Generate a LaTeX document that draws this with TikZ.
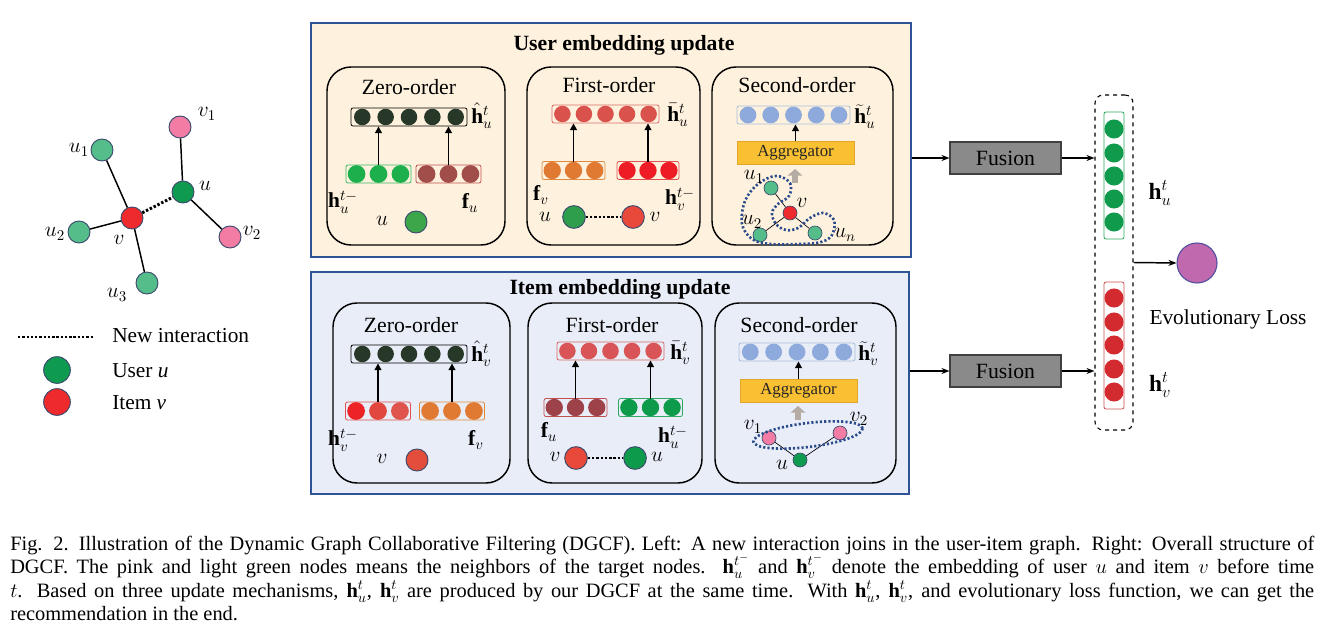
\RequirePackage{fix-cm}
\documentclass[tikz,border=0pt]{standalone}
\usepackage{fontspec}
\setmainfont{Liberation Serif}
\usetikzlibrary{arrows.meta,calc}
\definecolor{usercream}{HTML}{FEF2DE}
\definecolor{itembg}{HTML}{E9EDF7}
\definecolor{panelblue}{HTML}{2F5496}
\definecolor{darkdot}{HTML}{283828}
\definecolor{zgreen}{HTML}{1DAF4B}
\definecolor{zgreenedge}{HTML}{3DB865}
\definecolor{brownd}{HTML}{A14D4A}
\definecolor{brownedge}{HTML}{C0504D}
\definecolor{topred}{HTML}{D9534C}
\definecolor{topredge}{HTML}{D66A66}
\definecolor{orng}{HTML}{E07A33}
\definecolor{orngedge}{HTML}{E08A40}
\definecolor{bred}{HTML}{EE1D25}
\definecolor{brededge}{HTML}{E05050}
\definecolor{lblue}{HTML}{8EA9DB}
\definecolor{lbluedge}{HTML}{A8BEDD}
\definecolor{aggfill}{HTML}{F8C032}
\definecolor{aggedge}{HTML}{E3A52A}
\definecolor{grayarr}{HTML}{B3ABA4}
\definecolor{pinkn}{HTML}{F27CA3}
\definecolor{lgreen}{HTML}{54BD89}
\definecolor{dgreen}{HTML}{0E9A4F}
\definecolor{redn}{HTML}{EE2A2C}
\definecolor{nodeedge}{HTML}{3B4A6E}
\definecolor{dotblue}{HTML}{2B4C8C}
\definecolor{rgreen}{HTML}{0F9A4C}
\definecolor{rgreenedge}{HTML}{2BA860}
\definecolor{rred}{HTML}{D32A30}
\definecolor{rrededge}{HTML}{D05050}
\definecolor{fusfill}{HTML}{8A8A8A}
\definecolor{lossfill}{HTML}{C069AE}
\definecolor{lossedge}{HTML}{4F4FA0}
\definecolor{ured}{HTML}{E8493B}
\definecolor{ugreen}{HTML}{2E9D4C}
\definecolor{zcirc}{HTML}{3DA54A}
\definecolor{igreen}{HTML}{0D9A4B}
\definecolor{igreenedge}{HTML}{2EA860}
\definecolor{irA}{HTML}{EC2227}
\definecolor{irB}{HTML}{E2473F}
\definecolor{irC}{HTML}{DF544C}
\definecolor{itopred}{HTML}{D95457}
\definecolor{ibrown}{HTML}{9E424A}
\definecolor{icirc}{HTML}{E34D3C}

\tikzset{
  panelbox/.style={draw=panelblue, line width=1.3pt, rectangle, inner sep=0pt},
  subbox/.style={draw=black, line width=1.1pt, rounded corners=18pt, rectangle, inner sep=0pt},
  vbox/.style={rectangle, line width=0.6pt, rounded corners=1.5pt, inner sep=0pt, minimum height=13.5pt},
  vdot/.style={circle, inner sep=0pt},
  uparr/.style={-{Triangle[length=5pt,width=5pt]}, line width=1.3pt},
  conn/.style={-{Stealth[length=6pt,width=4.5pt]}, line width=1.1pt},
  lab/.style={inner sep=0pt, font=\fontsize{16}{19}\selectfont},
  ttl/.style={inner sep=0pt, font=\fontsize{16.3}{19}\selectfont},
  btitle/.style={inner sep=0pt, font=\fontsize{16.3}{19}\selectfont\bfseries},
  gn/.style={circle, draw=nodeedge, line width=0.7pt, inner sep=0pt, minimum size=16.5pt},
  sgn/.style={circle, draw=nodeedge, line width=0.5pt, inner sep=0pt, minimum size=10.5pt},
  edge/.style={line width=1.1pt},
  thinedge/.style={line width=0.5pt},
  nbr/.style={draw=dotblue, line width=2pt, dash pattern=on 1.6pt off 1.6pt},
  newint/.style={line width=2.2pt, dash pattern=on 1.8pt off 1.4pt},
  agg/.style={rectangle, fill=aggfill, draw=aggedge, line width=0.6pt, inner sep=0pt, minimum width=87.75pt, minimum height=17.25pt, font=\fontsize{12.6}{14}\selectfont, text=black!85},
  grayarrow/.style={draw=grayarr, line width=4pt, -{Triangle[length=5pt,width=11pt]}},
  fusion/.style={rectangle, fill=fusfill, draw=black!75, line width=0.8pt, minimum width=83.25pt, minimum height=24pt, inner sep=0pt, font=\fontsize{16.3}{19}\selectfont},
  capline/.style={inner sep=0pt, anchor=base west, font=\fontsize{15.3}{16.5}\selectfont},
}

% horizontal embedding vector: name, x, y, width(px), n, border colour, fill list, dot size
\newcommand{\hvec}[8]{%
  \node[vbox, draw=#6, minimum width=#4*0.75pt] (#1) at (#2,#3) {};
  \foreach \vcol [count=\k] in {#7}{
    \node[vdot, minimum size=#8, fill=\vcol] (#1-\k) at ($(#1.west)!{(\k-0.5)/#5}!(#1.east)$) {};
  }
}

\begin{document}
\begin{tikzpicture}[x=0.75pt,y=-0.75pt]
\useasboundingbox (0,0) rectangle (1327,635);
\fill[white] (0,0) rectangle (1327,635);

% ---------------- left graph ----------------
\node[gn, fill=pinkn] (gv1) at (180,127) {};
\node[gn, fill=lgreen] (gu1) at (102,150) {};
\node[gn, fill=dgreen] (gu) at (183,192) {};
\node[gn, fill=redn] (gv) at (132,218) {};
\node[gn, fill=lgreen] (gu2) at (79,232) {};
\node[gn, fill=pinkn] (gv2) at (230,237) {};
\node[gn, fill=lgreen] (gu3) at (147,283) {};
\draw[edge] (gu1) -- (gv);
\draw[edge] (gu2) -- (gv);
\draw[edge] (gu3) -- (gv);
\draw[edge] (gv1) -- (gu);
\draw[edge] (gu) -- (gv2);
\draw[newint] (gv) -- (gu);
\node[lab] (lv1) at (207,114) {$v_1$};
\node[lab] (lu1) at (79,150) {$u_1$};
\node[lab] (lu) at (205,186) {$u$};
\node[lab] (lv) at (119,240) {$v$};
\node[lab] (lu2) at (55,234) {$u_2$};
\node[lab] (lv2) at (252,233) {$v_2$};
\node[lab] (lu3) at (117,295) {$u_3$};

% legend
\coordinate (ni1) at (18,337);
\coordinate (ni2) at (93,337);
\draw[newint] (ni1) -- (ni2);
\node[lab, anchor=west] (lni) at (112,336) {New interaction};
\node[gn, minimum size=20pt, fill=dgreen] (lgu) at (57,370) {};
\node[lab, anchor=west] (lus) at (112,371) {User \textit{u}};
\node[gn, minimum size=20pt, fill=redn] (lgv) at (57,402) {};
\node[lab, anchor=west] (lit) at (112,403) {Item \textit{v}};

% ---------------- panels ----------------
\node[panelbox, fill=usercream, minimum width=450pt, minimum height=175.5pt] (upanel) at (611,140) {};
\node[panelbox, fill=itembg, minimum width=448.5pt, minimum height=166.5pt] (ipanel) at (610,383) {};
\node[btitle] (utitle) at (624,45) {User embedding update};
\node[btitle] (ititle) at (620,289) {Item embedding update};

\node[subbox, minimum width=133.5pt, minimum height=133.5pt] (uzbox) at (416,156) {};
\node[subbox, minimum width=129.75pt, minimum height=133.5pt] (ufbox) at (613.5,156) {};
\node[subbox, minimum width=135.75pt, minimum height=133.5pt] (usbox) at (802.5,156) {};
\node[subbox, minimum width=132.75pt, minimum height=135pt] (izbox) at (421.5,393) {};
\node[subbox, minimum width=130.5pt, minimum height=135pt] (ifbox) at (615,393) {};
\node[subbox, minimum width=135.75pt, minimum height=135pt] (isbox) at (805.5,393) {};

% ---------- user zero-order ----------
\node[ttl] (uzt) at (409,87) {Zero-order};
\hvec{uzh}{409}{117}{116}{5}{black}{darkdot,darkdot,darkdot,darkdot,darkdot}{12.4pt}
\node[lab, anchor=west] (uzhl) at (471,116) {$\hat{\mathbf{h}}_u^t$};
\hvec{uzl}{378.5}{174}{65}{3}{zgreenedge}{zgreen,zgreen,zgreen}{13.3pt}
\hvec{uzr}{448.5}{174}{65}{3}{brownedge}{brownd,brownd,brownd}{13.3pt}
\draw[uparr] (uzl-2.north) -- (uzl-2.north |- uzh.south);
\draw[uparr] (uzr-2.north) -- (uzr-2.north |- uzh.south);
\node[lab] (uzll) at (343,202) {$\mathbf{h}_u^{t-}$};
\node[lab] (uzrl) at (470,203) {$\mathbf{f}_u$};
\node[lab] (uzn) at (382,221) {$u$};
\node[gn, minimum size=16.5pt, fill=zcirc] (uzc) at (416,222) {};

% ---------- item zero-order ----------
\node[ttl] (izt) at (411,325) {Zero-order};
\hvec{izh}{409}{354}{116}{5}{black}{darkdot,darkdot,darkdot,darkdot,darkdot}{12.4pt}
\node[lab, anchor=west] (izhl) at (471,354) {$\hat{\mathbf{h}}_v^t$};
\hvec{izl}{378}{411}{65}{3}{brededge}{irA,irB,irC}{13.3pt}
\hvec{izr}{452}{411}{65}{3}{orngedge}{orng,orng,orng}{13.3pt}
\draw[uparr] (izl-2.north) -- (izl-2.north |- izh.south);
\draw[uparr] (izr-2.north) -- (izr-2.north |- izh.south);
\node[lab] (izll) at (343,440) {$\mathbf{h}_v^{t-}$};
\node[lab] (izrl) at (476,440) {$\mathbf{f}_v$};
\node[lab] (izn) at (382,459) {$v$};
\node[gn, minimum size=16.5pt, fill=icirc] (izc) at (417,460) {};

% ---------- user first-order ----------
\node[ttl] (uft) at (609,85) {First-order};
\hvec{ufh}{605.5}{114}{107}{5}{topredge}{topred,topred,topred,topred,topred}{12.4pt}
\node[lab, anchor=west] (ufhl) at (667,115) {$\bar{\mathbf{h}}_u^t$};
\hvec{ufl}{573.5}{170.5}{63}{3}{orngedge}{orng,orng,orng}{13pt}
\hvec{ufr}{648}{170.5}{62}{3}{brededge}{bred,bred,bred}{13pt}
\draw[uparr] (ufl-2.north) -- (ufl-2.north |- ufh.south);
\draw[uparr] (ufr-2.north) -- (ufr-2.north |- ufh.south);
\node[lab] (ufll) at (541,195) {$\mathbf{f}_v$};
\node[lab] (ufrl) at (680,199) {$\mathbf{h}_v^{t-}$};
\node[lab] (ufu) at (545,217) {$u$};
\node[gn, minimum size=17pt, fill=ugreen] (ufuc) at (574,217) {};
\node[gn, minimum size=17pt, fill=ured] (ufvc) at (633,217) {};
\node[lab] (ufv) at (655,217) {$v$};
\draw[newint, line width=2pt] (ufuc) -- (ufvc);

% ---------- item first-order ----------
\node[ttl] (ift) at (612,325) {First-order};
\hvec{ifh}{610.5}{351}{107}{5}{topredge}{itopred,itopred,itopred,itopred,itopred}{12.4pt}
\node[lab, anchor=west] (ifhl) at (670,353) {$\bar{\mathbf{h}}_v^t$};
\hvec{ifl}{575.5}{407.5}{63}{3}{brownedge}{ibrown,ibrown,ibrown}{13pt}
\hvec{ifr}{650.5}{407.5}{64}{3}{igreenedge}{igreen,igreen,igreen}{13pt}
\draw[uparr] (ifl-2.north) -- (ifl-2.north |- ifh.south);
\draw[uparr] (ifr-2.north) -- (ifr-2.north |- ifh.south);
\node[lab] (ifll) at (549,432) {$\mathbf{f}_u$};
\node[lab] (ifrl) at (673,437) {$\mathbf{h}_u^{t-}$};
\node[lab] (ifv) at (555,457) {$v$};
\node[gn, minimum size=17pt, fill=ured] (ifvc) at (576,458) {};
\node[gn, minimum size=17pt, fill=igreen] (ifuc) at (635,458) {};
\node[lab] (ifu) at (657,457) {$u$};
\draw[newint, line width=2pt] (ifvc) -- (ifuc);

% ---------- user second-order ----------
\node[ttl] (ust) at (797,85) {Second-order};
\hvec{ush}{793.5}{115}{113}{5}{lbluedge}{lblue,lblue,lblue,lblue,lblue}{12.6pt}
\node[lab, anchor=west] (ushl) at (854,117) {$\widetilde{\mathbf{h}}_u^t$};
\node[agg] (uagg) at (795.5,152.5) {Aggregator};
\draw[uparr] (uagg.north) -- (uagg.north |- ush.south);
\coordinate (ugt) at (795,183);
\coordinate (ugh) at (795,169);
\draw[grayarrow] (ugt) -- (ugh);
\node[sgn, fill=lgreen] (su1) at (771,188) {};
\node[sgn, fill=redn] (sv) at (790,213) {};
\node[sgn, fill=lgreen] (su2) at (760,235) {};
\node[sgn, fill=lgreen] (sun) at (815,233) {};
\draw[thinedge] (su1) -- (sv);
\draw[thinedge] (su2) -- (sv);
\draw[thinedge] (sun) -- (sv);
\draw[nbr] plot[smooth cycle, tension=0.6] coordinates {(776,176) (790,183) (789,196) (778,204) (772,213) (776,224) (786,230) (798,228) (810,218) (823,213) (834,220) (832,235) (821,242) (800,244) (770,244) (752,239) (742,224) (745,201) (758,184)};
\node[lab] (lsu1) at (754,177) {$u_1$};
\node[lab] (lsv) at (802,203) {$v$};
\node[lab] (lsu2) at (752,222) {$u_2$};
\node[lab] (lsun) at (845,235) {$u_n$};

% ---------- item second-order ----------
\node[ttl] (ist) at (799,325) {Second-order};
\hvec{ish}{797}{352}{116}{5}{lbluedge}{lblue,lblue,lblue,lblue,lblue}{12.6pt}
\node[lab, anchor=west] (ishl) at (858,354) {$\widetilde{\mathbf{h}}_v^t$};
\node[agg] (iagg) at (798.5,391) {Aggregator};
\draw[uparr] (iagg.north) -- (iagg.north |- ish.south);
\coordinate (igt) at (798,420);
\coordinate (igh) at (798,406);
\draw[grayarrow] (igt) -- (igh);
\node[sgn, fill=pinkn] (sv1) at (769,438) {};
\node[sgn, fill=pinkn] (sv2) at (840,433) {};
\node[sgn, fill=dgreen] (siu) at (800,460) {};
\draw[thinedge] (sv1) -- (siu);
\draw[thinedge] (sv2) -- (siu);
\draw[nbr, rotate around={7:(808,435)}] (808,435) ellipse [x radius=55, y radius=12];
\node[lab] (lsv1) at (753,427) {$v_1$};
\node[lab] (lsv2) at (859,419) {$v_2$};
\node[lab] (lsiu) at (782,465) {$u$};

% ---------------- right part ----------------
\node[fusion] (fus1) at (1005.5,158) {Fusion};
\node[fusion] (fus2) at (1005.5,371) {Fusion};
\node[draw, dashed, line width=0.8pt, rounded corners=6pt, minimum width=28.5pt, minimum height=251.25pt, inner sep=0pt] (dbox) at (1114,262.5) {};
\node[vbox, draw=rgreenedge, minimum width=15pt, minimum height=95.25pt] (hu) at (1114,175.5) {};
\foreach \k/\yy in {1/129,2/153,3/176,4/199,5/222}
  \node[vdot, minimum size=14.3pt, fill=rgreen] (hu-\k) at (1114,\yy) {};
\node[vbox, draw=rrededge, minimum width=15pt, minimum height=95.25pt] (hv) at (1114,345.5) {};
\foreach \k/\yy in {1/298,2/322,3/345,4/369,5/392}
  \node[vdot, minimum size=14.3pt, fill=rred] (hv-\k) at (1114,\yy) {};
\node[lab, font=\fontsize{17.5}{20}\selectfont] (hul) at (1160,193) {$\mathbf{h}_u^t$};
\node[lab, font=\fontsize{17.5}{20}\selectfont] (hvl) at (1160,385) {$\mathbf{h}_v^t$};
\node[circle, fill=lossfill, draw=lossedge, line width=0.8pt, minimum size=30pt, inner sep=0pt] (loss) at (1197,263) {};
\node[lab] (lossl) at (1228,319) {Evolutionary Loss};

\draw[conn] (fus1.west -| upanel.east) -- (fus1.west);
\draw[conn] (fus1.east) -- (fus1.east -| dbox.west);
\draw[conn] (fus2.west -| ipanel.east) -- (fus2.west);
\draw[conn] (fus2.east) -- (fus2.east -| dbox.west);
\draw[conn] (dbox.east) -- (loss.west);

% ---------------- caption ----------------
\node[capline] (cap1) at (10,550) {\makebox[978pt][s]{Fig. 2.\enspace Illustration of the Dynamic Graph Collaborative Filtering (DGCF). Left: A new interaction joins in the user-item graph. Right: Overall structure of}};
\node[capline] (cap2) at (10,573) {\makebox[978pt][s]{DGCF. The pink and light green nodes means the neighbors of the target nodes. $\mathbf{h}_u^{t^-}$ and $\mathbf{h}_v^{t^-}$ denote the embedding of user $u$ and item $v$ before time}};
\node[capline] (cap3) at (10,597) {\makebox[978pt][s]{$t$. Based on three update mechanisms, $\mathbf{h}_u^t$, $\mathbf{h}_v^t$ are produced by our DGCF at the same time. With $\mathbf{h}_u^t$, $\mathbf{h}_v^t$, and evolutionary loss function, we can get the}};
\node[capline] (cap4) at (10,620) {recommendation in the end.};
\end{tikzpicture}
\end{document}
